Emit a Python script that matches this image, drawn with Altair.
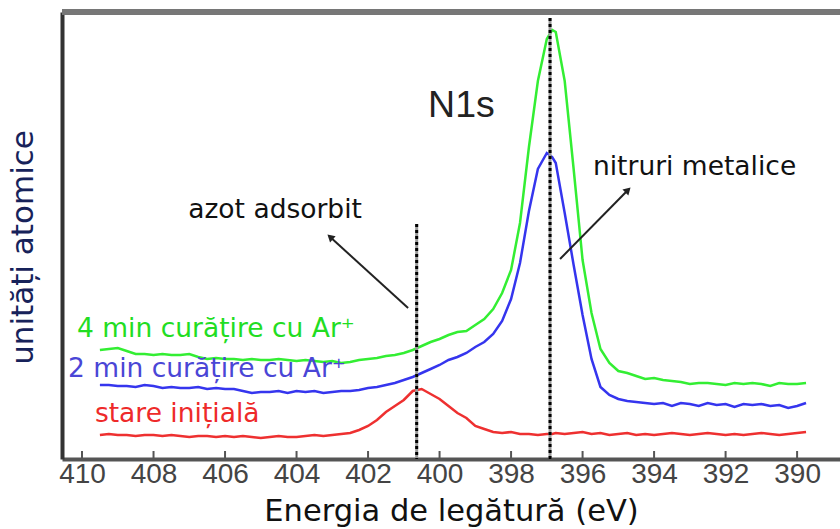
import altair as alt
import pandas as pd

# Binding energy grid (eV) shared by the three N1s spectra
energy = [409.5, 409.25, 409.0, 408.75, 408.5, 408.25, 408.0, 407.75, 407.5, 407.25,
          407.0, 406.75, 406.5, 406.25, 406.0, 405.75, 405.5, 405.25, 405.0, 404.75,
          404.5, 404.25, 404.0, 403.75, 403.5, 403.25, 403.0, 402.75, 402.5, 402.25,
          402.0, 401.75, 401.5, 401.25, 401.0, 400.75, 400.5, 400.25, 400.0, 399.75,
          399.5, 399.25, 399.0, 398.75, 398.5, 398.25, 398.0, 397.75, 397.5, 397.25,
          397.0, 396.85, 396.75, 396.5, 396.25, 396.0, 395.75, 395.5, 395.25, 395.0,
          394.75, 394.5, 394.25, 394.0, 393.75, 393.5, 393.25, 393.0, 392.75, 392.5,
          392.25, 392.0, 391.75, 391.5, 391.25, 391.0, 390.75, 390.5, 390.25, 390.0,
          389.75]

# Intensities (arbitrary units)
green_4min = [109, 110, 111, 108, 105, 105, 104, 105, 104, 104,
              105, 102, 100, 101, 100, 100, 99, 100, 99, 99,
              100, 99, 98, 99, 98, 97, 98, 96, 97, 99,
              100, 101, 103, 104, 106, 109, 113, 117, 120, 124,
              127, 128, 134, 140, 150, 166, 189, 236, 312, 378,
              420, 429, 427, 378, 290, 199, 146, 110, 96, 88,
              86, 83, 80, 81, 79, 78, 77, 75, 76, 76,
              75, 74, 76, 75, 76, 75, 73, 76, 75, 75,
              76]
blue_2min = [74, 74, 73, 73, 72, 74, 73, 71, 72, 71,
             71, 72, 70, 71, 70, 70, 68, 66, 67, 67,
             68, 66, 68, 67, 68, 66, 67, 68, 68, 69,
             71, 72, 74, 76, 79, 82, 86, 90, 94, 99,
             102, 106, 112, 117, 125, 138, 160, 196, 248, 290,
             306, 302, 296, 246, 194, 144, 100, 72, 64, 60,
             58, 57, 56, 55, 56, 53, 56, 55, 53, 56,
             54, 55, 52, 55, 54, 55, 53, 54, 51, 53,
             56]
red_initial = [24, 25, 24, 24, 23, 24, 24, 23, 24, 23,
               22, 23, 23, 22, 23, 22, 23, 22, 21, 22,
               23, 22, 22, 23, 24, 23, 24, 25, 26, 29,
               33, 39, 47, 53, 59, 68, 70, 65, 60, 53,
               46, 41, 33, 30, 27, 26, 27, 25, 25, 24,
               25, 25, 26, 25, 26, 27, 25, 26, 24, 25,
               26, 24, 25, 24, 25, 26, 25, 24, 25, 26,
               25, 24, 25, 24, 25, 26, 25, 24, 25, 26,
               27]

series_names = ["4 min curățire cu Ar⁺", "2 min curățire cu Ar⁺", "stare inițială"]
series_colors = ["#33ee33", "#3535ee", "#ee3030"]
label_colors = ["#22dd22", "#4a46d6", "#ee2a2a"]

x_ticks = [410, 408, 406, 404, 402, 400, 398, 396, 394, 392, 390]

# Reference positions of the two N species
marker_energy = [400.64, 396.91]
marker_top = [235, 441]

# Annotation arrows (tail -> head) in data units
arrow_x = [400.88, 396.63]
arrow_y = [151, 200]
arrow_x2 = [403.06, 394.73]
arrow_y2 = [222, 269]
arrow_angle = [312, 45]

# Text annotations
note_text = ["azot adsorbit", "nitruri metalice"]
note_x = [407.03, 395.71]
note_y = [241, 284]
series_label_x = [410.14, 410.39, 409.64]
series_label_y = [122, 82, 37]

W, H = 778, 447
x_scale = alt.Scale(domain=[388.8, 410.56], reverse=True, nice=False, zero=False)
y_scale = alt.Scale(domain=[0, 447], nice=False, zero=False)

rows = []
for name, vals in zip(series_names, [green_4min, blue_2min, red_initial]):
    for e, v in zip(energy, vals):
        rows.append({"E": e, "I": v, "serie": name})
spectra = pd.DataFrame(rows)

x_axis = alt.Axis(values=x_ticks, format="d", labelFont="Liberation Sans",
                  labelFontSize=28, labelColor="#444", labelPadding=1,
                  labelOverlap=False, labelFlush=False, ticks=False, grid=False,
                  domainColor="#555", domainWidth=4,
                  title="Energia de legătură (eV)", titleFont="DejaVu Sans",
                  titleFontSize=30.5, titleFontWeight="normal", titleColor="#111",
                  titlePadding=8)
y_axis = alt.Axis(labels=False, ticks=False, grid=False, domainColor="#333",
                  domainWidth=4, title="unități atomice", titleFont="DejaVu Sans",
                  titleFontSize=31, titleFontWeight="normal", titleColor="#17225a",
                  titlePadding=23, titleY=235)

lines = alt.Chart(spectra).mark_line(strokeWidth=2.5).encode(
    x=alt.X("E:Q", scale=x_scale, axis=x_axis),
    y=alt.Y("I:Q", scale=y_scale, axis=y_axis),
    color=alt.Color("serie:N", scale=alt.Scale(domain=series_names, range=series_colors), legend=None),
)

markers = pd.DataFrame({"E": marker_energy, "top": marker_top, "bottom": [0, 0]})
marker_base = alt.Chart(markers).mark_rule(color="#9a9a9a", strokeWidth=3).encode(
    x=alt.X("E:Q", scale=x_scale), y=alt.Y("top:Q", scale=y_scale), y2="bottom:Q")
marker_dash = alt.Chart(markers).mark_rule(color="#000", strokeWidth=3, strokeDash=[3, 3]).encode(
    x=alt.X("E:Q", scale=x_scale), y=alt.Y("top:Q", scale=y_scale), y2="bottom:Q")

arrows = pd.DataFrame({"x": arrow_x, "y": arrow_y, "x2": arrow_x2, "y2": arrow_y2, "ang": arrow_angle})
arrow_lines = alt.Chart(arrows).mark_rule(color="#222", strokeWidth=2).encode(
    x=alt.X("x:Q", scale=x_scale), y=alt.Y("y:Q", scale=y_scale), x2="x2:Q", y2="y2:Q")
arrow_heads = alt.Chart(arrows).mark_point(shape="triangle-up", filled=True, size=70,
                                           color="#222", opacity=1).encode(
    x=alt.X("x2:Q", scale=x_scale), y=alt.Y("y2:Q", scale=y_scale),
    angle=alt.Angle("ang:Q", scale=None))

ticks = pd.DataFrame({"E": x_ticks})
tick_marks = alt.Chart(ticks).mark_rule(color="#555", strokeWidth=2).encode(
    x=alt.X("E:Q", scale=x_scale), y=alt.value(H), y2=alt.value(H - 8))

top_border = alt.Chart(ticks).mark_rule(color="#777", strokeWidth=5).encode(
    x=alt.value(0), x2=alt.value(W), y=alt.value(0))

notes = pd.DataFrame({"t": note_text, "x": note_x, "y": note_y})
note_marks = alt.Chart(notes).mark_text(font="DejaVu Sans", fontSize=26.5, align="left",
                                        baseline="alphabetic", color="#111").encode(
    x=alt.X("x:Q", scale=x_scale), y=alt.Y("y:Q", scale=y_scale), text="t:N")

labels = pd.DataFrame({"t": series_names, "x": series_label_x, "y": series_label_y, "c": label_colors})
label_marks = alt.Chart(labels).mark_text(font="DejaVu Sans", fontSize=26.5, align="left",
                                          baseline="alphabetic").encode(
    x=alt.X("x:Q", scale=x_scale), y=alt.Y("y:Q", scale=y_scale), text="t:N",
    color=alt.Color("c:N", scale=None))

title_df = pd.DataFrame({"t": ["N1s"], "x": [400.32], "y": [342]})
title_mark = alt.Chart(title_df).mark_text(font="Liberation Sans", fontSize=37.5, align="left",
                                           baseline="alphabetic", color="#222").encode(
    x=alt.X("x:Q", scale=x_scale), y=alt.Y("y:Q", scale=y_scale), text="t:N")

chart = alt.layer(
    lines, marker_base, marker_dash, arrow_lines, arrow_heads, tick_marks, top_border,
    note_marks, label_marks, title_mark
).properties(
    width=W, height=H,
    autosize=alt.AutoSizeParams(type="none"),
    padding={"left": 62, "top": 12, "right": 0, "bottom": 70},
    background="white",
).configure_view(stroke=None)

chart.save("out.html", embed_options={"renderer": "svg", "actions": False})
